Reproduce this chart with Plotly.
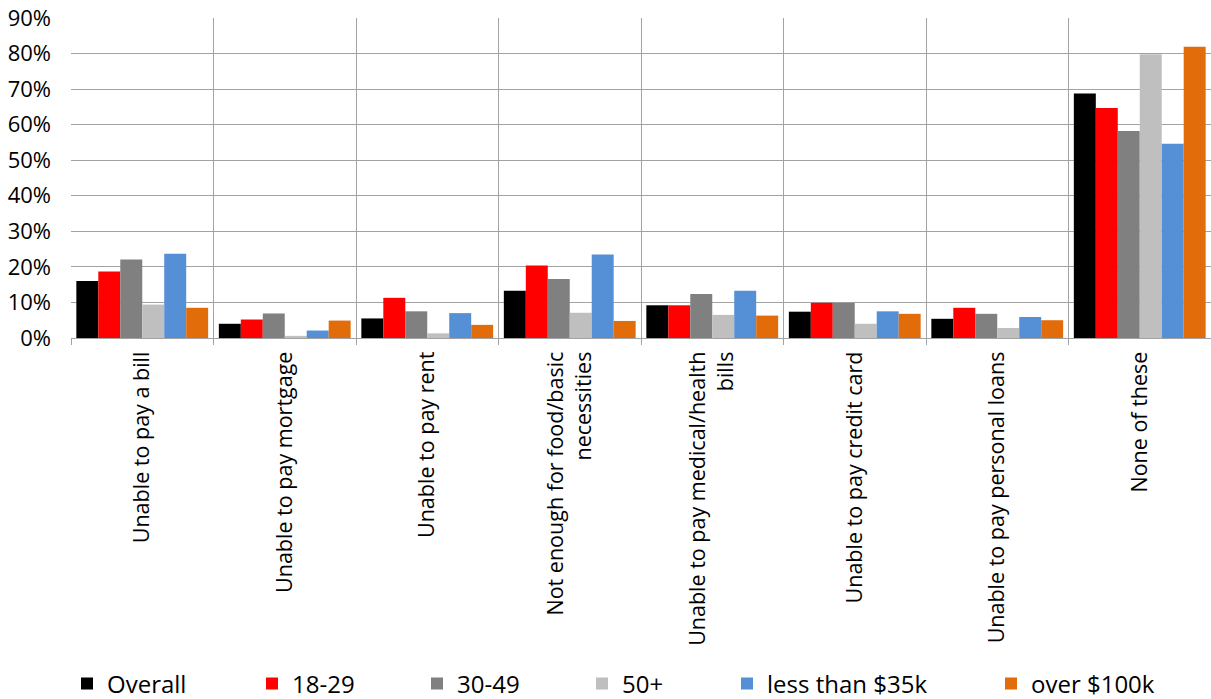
import plotly.graph_objects as go

# Survey categories (x axis)
categories = [
    "Unable to pay a bill",
    "Unable to pay mortgage",
    "Unable to pay rent",
    "Not enough for food/basic<br>necessities",
    "Unable to pay medical/health<br>bills",
    "Unable to pay credit card",
    "Unable to pay personal loans",
    "None of these",
]

# Respondent groups
series_names = ["Overall", "18-29", "30-49", "50+", "less than $35k", "over $100k"]

# Share of respondents (%) per group, in category order
overall = [16, 4, 5.5, 13.3, 9.2, 7.4, 5.4, 68.8]
age_18_29 = [18.7, 5.2, 11.3, 20.4, 9.2, 9.9, 8.5, 64.7]
age_30_49 = [22.1, 6.9, 7.5, 16.6, 12.4, 9.9, 6.8, 58.2]
age_50_plus = [9.4, 0.6, 1.3, 7.1, 6.5, 4.0, 2.8, 79.8]
income_under_35k = [23.7, 2.1, 7.0, 23.5, 13.3, 7.5, 5.9, 54.6]
income_over_100k = [8.5, 4.9, 3.7, 4.8, 6.3, 6.8, 5.0, 81.9]

values = [overall, age_18_29, age_30_49, age_50_plus, income_under_35k, income_over_100k]
colors = ["#000000", "#ff0000", "#808080", "#bfbfbf", "#5590d6", "#e36c0a"]

FONT = "Open Sans, Noto Sans, sans-serif"
GRID = "#a3a3a3"

W, H = 1211, 699
L, R, T, B = 71, 0, 18, 361
plot_w = W - L - R
plot_h = H - T - B

# legend item left edges (px) for each group
legend_px = [67, 252, 417, 582, 727, 991]
legend_y_px = 684

fig = go.Figure()
for i, (name, vals, col) in enumerate(zip(series_names, values, colors)):
    lg = "legend" if i == 0 else f"legend{i + 1}"
    fig.add_trace(go.Bar(
        x=categories, y=vals, name=name,
        marker=dict(color=col, line=dict(width=0)),
        legend=lg,
    ))

layout_legends = {}
for i, px in enumerate(legend_px):
    key = "legend" if i == 0 else f"legend{i + 1}"
    layout_legends[key] = dict(
        x=(px - L) / plot_w,
        y=(T + plot_h - legend_y_px) / plot_h,
        xanchor="left", yanchor="middle",
        orientation="h",
        font=dict(family=FONT, size=24, color="#000000"),
        bgcolor="rgba(0,0,0,0)",
        borderwidth=0,
        itemwidth=30,
        itemclick=False, itemdoubleclick=False,
    )

fig.update_layout(
    width=W, height=H,
    margin=dict(l=L, r=R, t=T, b=B, autoexpand=False),
    paper_bgcolor="white", plot_bgcolor="white",
    barmode="group", bargap=0.075, bargroupgap=0,
    showlegend=True,
    font=dict(family=FONT, size=21, color="#000000"),
    **layout_legends,
)

fig.update_xaxes(
    type="category",
    tickson="boundaries",
    showgrid=True, gridcolor=GRID, gridwidth=1,
    ticks="outside", ticklen=6, tickcolor=GRID, tickwidth=1,
    showline=True, linecolor=GRID, linewidth=1,
    tickangle=-90,
    tickfont=dict(family=FONT, size=21.5, color="#000000"),
    ticklabelstandoff=4,
    automargin=False,
    fixedrange=True,
)

fig.update_yaxes(
    range=[0, 90], dtick=10, ticksuffix="%",
    showgrid=True, gridcolor=GRID, gridwidth=1,
    zeroline=False, showline=False, ticks="",
    tickfont=dict(family=FONT, size=22, color="#000000"),
    ticklabelstandoff=19,
    automargin=False,
    fixedrange=True,
)

fig.write_html("out.html")
